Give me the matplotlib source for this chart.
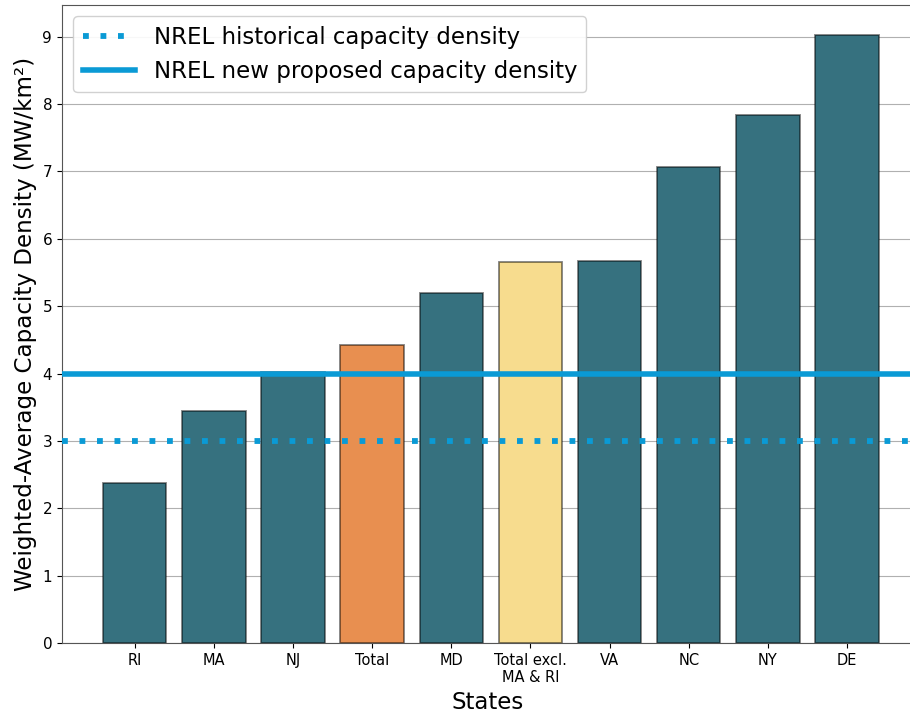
import numpy as np
import matplotlib.pyplot as plt

states = ['RI', 'MA', 'NJ', 'Total', 'MD', 'Total excl.\nMA & RI', 'VA', 'NC', 'NY', 'DE']
density = [2.38, 3.44, 4.03, 4.43, 5.20, 5.65, 5.67, 7.07, 7.84, 9.03]
bar_colors = ['#36717f', '#36717f', '#36717f', '#e88f50', '#36717f',
              '#f7dc8e', '#36717f', '#36717f', '#36717f', '#36717f']

historical = 3
proposed = 4

fig = plt.figure(figsize=(9.1, 7.17), dpi=100)
ax = fig.add_axes([0.068, 0.103, 0.935, 0.890])

x = np.arange(len(states))
ax.bar(x, density, width=0.8, color=bar_colors, edgecolor=(0, 0, 0, 0.5),
       linewidth=1.3, zorder=2)

ax.axhline(historical, color='#0a9ad5', linestyle=(0, (1, 2)), linewidth=4.2,
           label='NREL historical capacity density', zorder=3)
ax.axhline(proposed, color='#0a9ad5', linestyle='-', linewidth=4.0,
           label='NREL new proposed capacity density', zorder=3)

ax.set_xticks(x)
ax.set_xticklabels(states, fontsize=10.5)
ax.tick_params(axis='y', labelsize=11)
ax.set_yticks(range(0, 10))
ax.set_xlim(-0.92, 9.83)
ax.set_ylim(0, 9.47)
ax.grid(axis='y', color='#b0b0b0', linewidth=0.8, zorder=0)
ax.set_axisbelow(True)

ax.spines['right'].set_visible(False)
for s in ['bottom', 'left', 'top']:
    ax.spines[s].set_color('#555555')

ax.set_xlabel('States', fontsize=16.5)
ax.set_ylabel('Weighted-Average Capacity Density (MW/km²)', fontsize=16.6)
ax.legend(loc='upper left', fontsize=16.5, framealpha=0.9, handlelength=2.3)

plt.savefig('out.png', dpi=100)
